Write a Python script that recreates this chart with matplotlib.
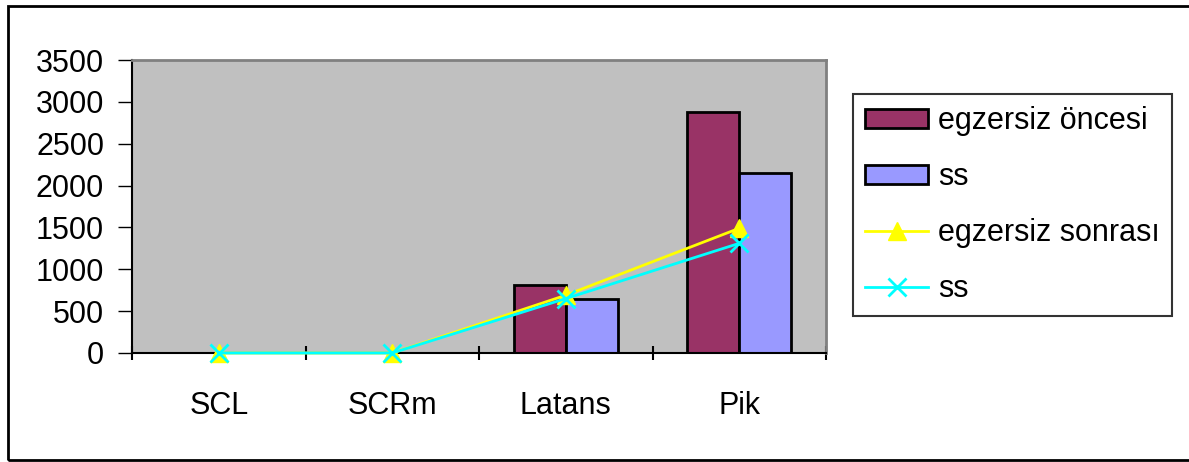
import numpy as np
import matplotlib.pyplot as plt
from matplotlib.patches import Rectangle

plt.rcParams['font.family'] = ['Liberation Sans', 'DejaVu Sans']

# data
categories = ["SCL", "SCRm", "Latans", "Pik"]
oncesi = [0, 0, 815, 2875]
oncesi_ss = [0, 0, 650, 2150]
sonrasi = [0, 0, 690, 1490]
sonrasi_ss = [0, 0, 650, 1310]

fig = plt.figure(figsize=(11.89, 4.62), dpi=100)
ax = fig.add_axes([132 / 1189, 1 - 353 / 462, 694 / 1189, 293 / 462])

# outer frame
fig.patches.append(Rectangle((8 / 1189, 2 / 462), 1.0, 454 / 462, transform=fig.transFigure,
                             fill=False, edgecolor='black', lw=2))

x = np.arange(len(categories))
w = 0.3
b1 = ax.bar(x - w / 2, oncesi, w, color='#993366', edgecolor='black', lw=2, label='egzersiz öncesi', zorder=2)
b2 = ax.bar(x + w / 2, oncesi_ss, w, color='#9999FF', edgecolor='black', lw=2, label='ss', zorder=2)
l1, = ax.plot(x, sonrasi, color='#FFFF00', lw=2, marker='^', ms=13, label='egzersiz sonrası',
              zorder=3, clip_on=False)
l2, = ax.plot(x, sonrasi_ss, color='#00FFFF', lw=2, marker='x', ms=13, mew=2, label='ss',
              zorder=4, clip_on=False)

ax.set_facecolor('#C0C0C0')
ax.set_xlim(-0.5, 3.5)
ax.set_ylim(0, 3500)
ax.set_yticks(range(0, 3501, 500))
ax.tick_params(axis='y', labelsize=22, length=10, width=1, direction='out', pad=10)
ax.set_xticks(x)
ax.set_xticklabels(categories, fontsize=22)
ax.tick_params(axis='x', length=0, pad=27)
ax.set_xticks(np.arange(-0.5, 4, 1), minor=True)
ax.tick_params(axis='x', which='minor', length=10, width=1.5, direction='inout')

for s in ['top', 'right']:
    ax.spines[s].set_color('#808080')
    ax.spines[s].set_linewidth(2)
for s in ['left', 'bottom']:
    ax.spines[s].set_color('black')
    ax.spines[s].set_linewidth(1.5)

leg = ax.legend(handles=[b1, b2, l1, l2], loc='upper left', bbox_to_anchor=(853 / 1189, 1 - 94 / 462),
                bbox_transform=fig.transFigure,
                fontsize=22, frameon=True, fancybox=False, edgecolor='black', borderaxespad=0,
                labelspacing=0.85, handlelength=2.05, handleheight=0.6, handletextpad=0.33, borderpad=0.4)
leg.get_frame().set_linewidth(1.5)

fig.savefig('out.png', dpi=100)
